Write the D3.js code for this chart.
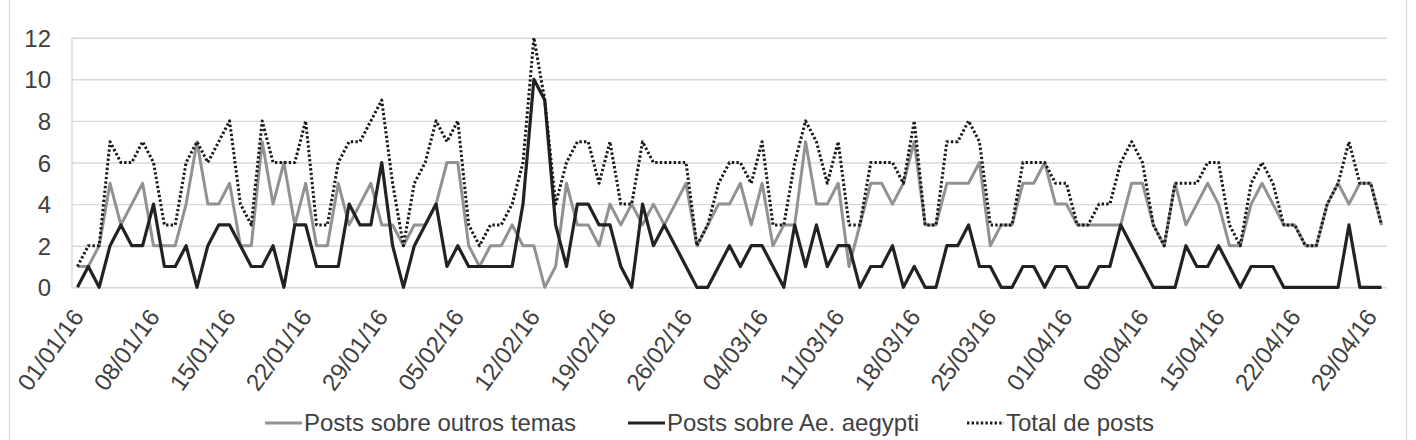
<!DOCTYPE html>
<html><head><meta charset="utf-8">
<script src="https://cdn.jsdelivr.net/npm/d3@7"></script>
<style>
body{margin:0;background:#fff}
svg{display:block}
text{font-family:"Liberation Sans",Arial,sans-serif}
</style>
</head><body>
<svg id="c" width="1416" height="440"></svg>
<script>
const startDate = "2016-01-01";
const endDate = "2016-04-30";
const outros = [1,1,2,5,3,4,5,2,2,2,4,7,4,4,5,2,2,7,4,6,3,5,
 2,2,5,3,4,5,3,3,2,3,3,4,6,6,2,1,2,2,3,2,2,
 0,1,5,3,3,2,4,3,4,3,4,3,4,5,2,3,4,4,5,3,5,2,
 3,3,7,4,4,5,1,3,5,5,4,5,7,3,3,5,5,5,6,2,3,
 3,5,5,6,4,4,3,3,3,3,3,5,5,3,2,5,3,4,5,4,2,
 2,4,5,4,3,3,2,2,4,5,4,5,5,3];
const aegypti = [0,1,0,2,3,2,2,4,1,1,2,0,2,3,3,2,1,1,2,0,3,3,
 1,1,1,4,3,3,6,2,0,2,3,4,1,2,1,1,1,1,1,4,10,
 9,3,1,4,4,3,3,1,0,4,2,3,2,1,0,0,1,2,1,2,2,1,
 0,3,1,3,1,2,2,0,1,1,2,0,1,0,0,2,2,3,1,1,0,
 0,1,1,0,1,1,0,0,1,1,3,2,1,0,0,0,2,1,1,2,1,
 0,1,1,1,0,0,0,0,0,0,3,0,0,0];
const total = [1,2,2,7,6,6,7,6,3,3,6,7,6,7,8,4,3,8,6,6,6,8,
 3,3,6,7,7,8,9,5,2,5,6,8,7,8,3,2,3,3,4,6,12,
 9,4,6,7,7,5,7,4,4,7,6,6,6,6,2,3,5,6,6,5,7,3,
 3,6,8,7,5,7,3,3,6,6,6,5,8,3,3,7,7,8,7,3,3,
 3,6,6,6,5,5,3,3,4,4,6,7,6,3,2,5,5,5,6,6,3,
 2,5,6,5,3,3,2,2,4,5,7,5,5,3];
const yTicks = [0,2,4,6,8,10,12];
const xTickLabels = ["01/01/16","08/01/16","15/01/16","22/01/16","29/01/16","05/02/16",
 "12/02/16","19/02/16","26/02/16","04/03/16","11/03/16","18/03/16","25/03/16",
 "01/04/16","08/04/16","15/04/16","22/04/16","29/04/16"];
const seriesNames = ["Posts sobre outros temas","Posts sobre Ae. aegypti","Total de posts"];

const parse = d3.utcParse("%Y-%m-%d"), fmt = d3.utcFormat("%d/%m/%y");
const days = d3.utcDay.range(parse(startDate), d3.utcDay.offset(parse(endDate), 1)).map(fmt);

const svg = d3.select("#c");
const TXT = "#404040", GRID = "#d9d9d9";
const L = 72, R = 1387;

// chart border
svg.append("rect").attr("x", 9.5).attr("y", -5).attr("width", 1397).attr("height", 460)
  .attr("fill", "none").attr("stroke", GRID).attr("stroke-width", 1.3);

const x = d3.scalePoint().domain(days).range([L, R]).padding(0.5);
const y = d3.scaleLinear().domain([0, 12]).range([287.3, 37.7]);

// y gridlines + labels
const ya = svg.append("g").attr("transform", `translate(${L},0)`)
  .call(d3.axisLeft(y).tickValues(yTicks).tickSize(-(R - L)).tickPadding(21).tickFormat(d3.format("d")));
ya.select(".domain").remove();
ya.selectAll(".tick line").attr("stroke", GRID).attr("stroke-width", 1.4);
ya.selectAll(".tick text").attr("fill", TXT).attr("font-size", 24).attr("dy", "0.36em")
  .style("font-family", '"Liberation Sans",Arial,sans-serif');

// vertical axis line
svg.append("line").attr("x1", L).attr("x2", L).attr("y1", y(12)).attr("y2", y(0))
  .attr("stroke", GRID).attr("stroke-width", 1.4);

// x labels
const xa = svg.append("g").attr("transform", "translate(0,312)")
  .call(d3.axisBottom(x).tickValues(xTickLabels).tickSize(0));
xa.select(".domain").remove();
xa.selectAll(".tick text").attr("fill", TXT).attr("font-size", 24)
  .attr("x", 0).attr("y", 0).attr("dy", "0.35em").attr("text-anchor", "end")
  .attr("transform", "rotate(-54)")
  .style("font-family", '"Liberation Sans",Arial,sans-serif');

const line = d3.line().x((d, i) => x(days[i])).y(d => y(d));
const styles = [
  {data: outros, color: "#929292", dash: null, w: 3},
  {data: aegypti, color: "#222222", dash: null, w: 3.2},
  {data: total, color: "#1a1a1a", dash: "2.4,2.2", w: 3}
];
styles.forEach(s => {
  svg.append("path").datum(s.data).attr("d", line)
    .attr("fill", "none").attr("stroke", s.color).attr("stroke-width", s.w)
    .attr("stroke-linejoin", "round")
    .attr("stroke-dasharray", s.dash);
});

// legend
const legX = [265, 628, 967];
const lg = svg.append("g");
styles.forEach((s, i) => {
  lg.append("line").attr("x1", legX[i]).attr("x2", legX[i] + 37).attr("y1", 423).attr("y2", 423)
    .attr("stroke", s.color).attr("stroke-width", s.w).attr("stroke-dasharray", s.dash);
  lg.append("text").attr("x", legX[i] + 39).attr("y", 430.5).attr("font-size", 24)
    .attr("fill", TXT).text(seriesNames[i]);
});
</script>
</body></html>
